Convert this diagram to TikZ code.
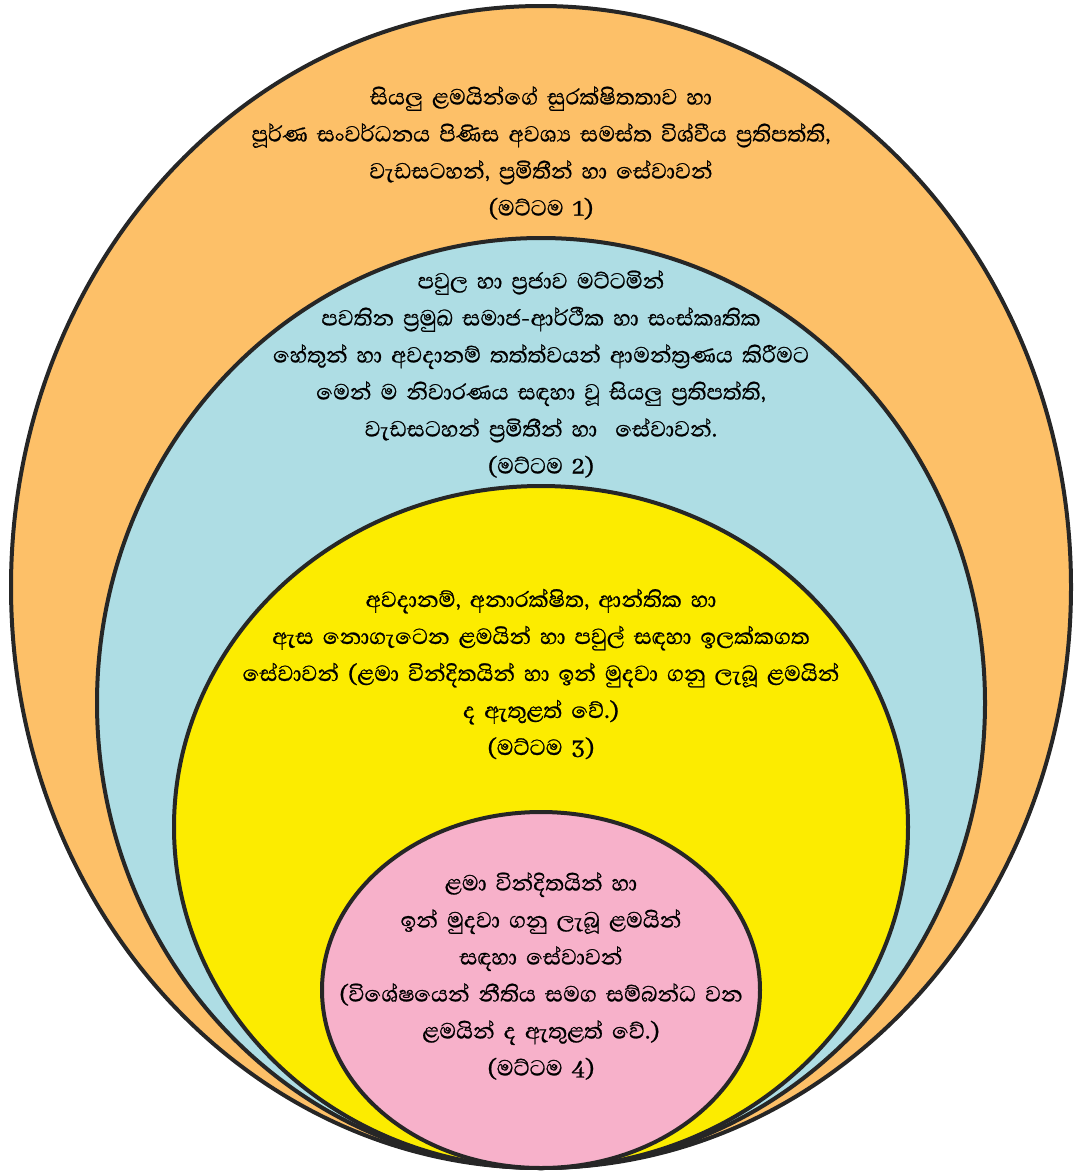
\documentclass[tikz,border=0pt]{standalone}
\usepackage{fontspec}
\newfontfamily\sinhalafont[Script=Sinhala, FakeBold=0.8, WordSpace=1.7]{Abhaya Libre}
\usepackage{tikz}
\usetikzlibrary{positioning}
\definecolor{ringone}{HTML}{FDC068}
\definecolor{ringtwo}{HTML}{AEDDE4}
\definecolor{ringthree}{HTML}{FCEC00}
\definecolor{ringfour}{HTML}{F7B1CA}
\tikzset{
ring/.style={draw=black!85, line width=4pt}, % outline of every level
leveltext/.style={align=center, font=\sinhalafont\fontsize{28}{37}\selectfont, inner sep=0pt}, % text inside a level
}

\begin{document}
\begin{tikzpicture}[x=1pt, y=-1pt]
    \useasboundingbox (0,0) rectangle (1075,1173);
    % the four levels, all touching at the bottom
    \draw[ring, fill=ringone] (541,587) ellipse [x radius=530pt, y radius=581pt];
    \draw[ring, fill=ringtwo] (541,703) ellipse [x radius=444pt, y radius=465pt];
    \draw[ring, fill=ringthree] (541,827) ellipse [x radius=367pt, y radius=341pt];
    \draw[ring, fill=ringfour] (541,990) ellipse [x radius=219pt, y radius=178pt];
    \node[leveltext] (level1) at (541,153) {සියලු ළමයින්ගේ සුරක්ෂිතතාව හා\\
        පූර්ණ සංවර්ධනය පිණිස අවශ්‍ය සමස්ත විශ්වීය ප්‍රතිපත්ති,\\
        වැඩසටහන්, ප්‍රමිතීන් හා සේවාවන්\\
        (මට්ටම 1)};
    \node[leveltext] (level2) at (541,374) {පවුල හා ප්‍රජාව මට්ටමින්\\
        පවතින ප්‍රමුඛ සමාජ-ආර්ථීක හා සංස්කෘතික\\
        හේතුන් හා අවදානම් තත්ත්වයන් ආමන්ත්‍රණය කිරීමට\\
        මෙන් ම නිවාරණය සඳහා වූ සියලු ප්‍රතිපත්ති,\\
        වැඩසටහන් ප්‍රමිතීන් හා \ සේවාවන්.\\
        (මට්ටම 2)};
    \node[leveltext] (level3) at (541,674) {අවදානම්, අනාරක්ෂිත, ආන්තික හා\\
        ඇස නොගැටෙන ළමයින් හා පවුල් සඳහා ඉලක්කගත\\
        සේවාවන් (ළමා වින්දිතයින් හා ඉන් මුදවා ගනු ලැබූ ළමයින්\\
        ද ඇතුළත් වේ.)\\
        (මට්ටම 3)};
    \node[leveltext] (level4) at (541,976) {ළමා වින්දිතයින් හා\\
        ඉන් මුදවා ගනු ලැබූ ළමයින්\\
        සඳහා සේවාවන්\\
        (විශේෂයෙන් නීතිය සමග සම්බන්ධ වන\\
        ළමයින් ද ඇතුළත් වේ.)\\
        (මට්ටම 4)};
\end{tikzpicture}
\end{document}
